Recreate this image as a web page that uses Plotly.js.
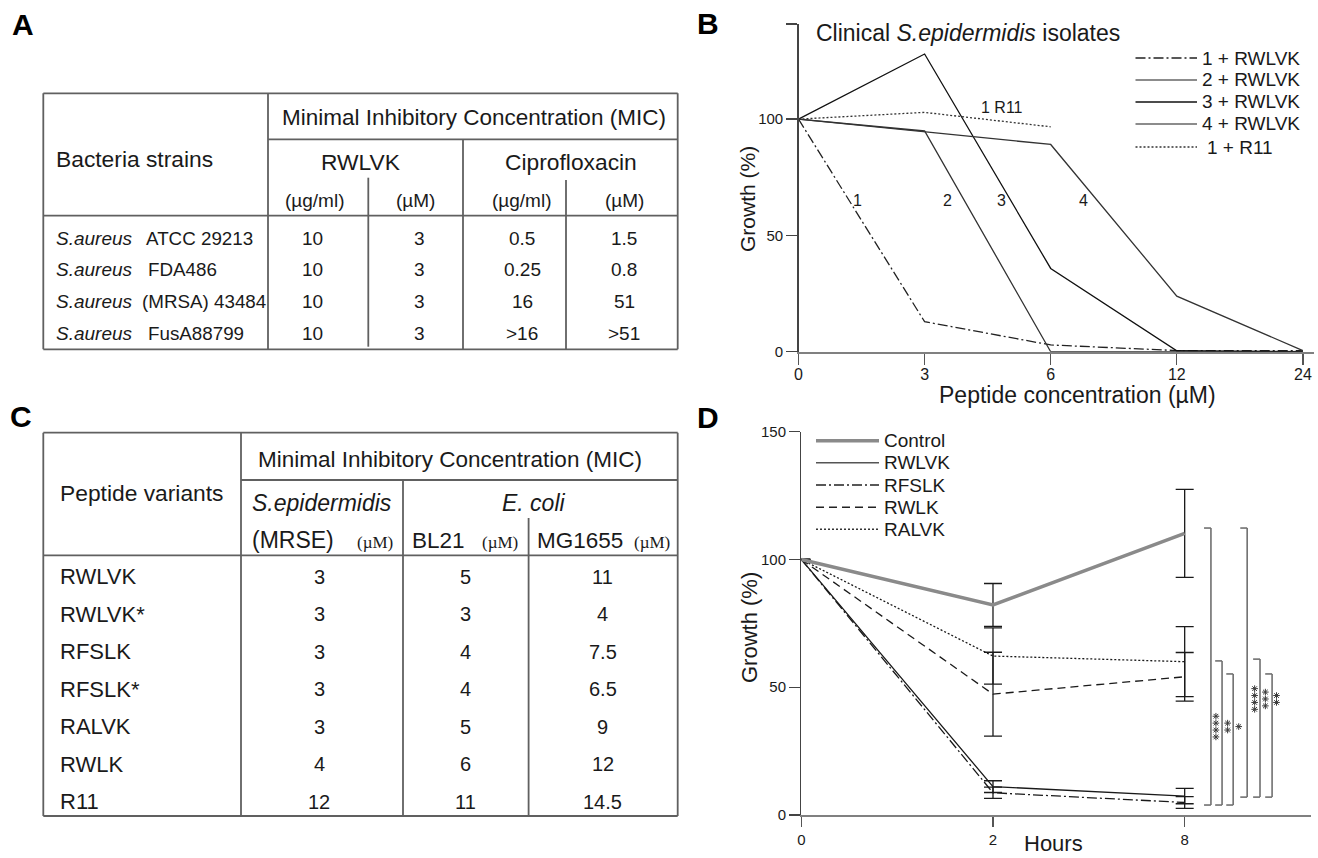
<!DOCTYPE html>
<html><head><meta charset="utf-8">
<script src="https://cdn.plot.ly/plotly-3.0.1.min.js"></script>
<style>html,body{margin:0;padding:0;background:#fff;} #chart{width:1318px;height:858px;}</style>
</head><body><div id="chart"></div>
<script>
// ---------------- DATA ----------------
// Panel A: MIC table, S. aureus strains
const strainSpecies = ['S.aureus', 'S.aureus', 'S.aureus', 'S.aureus'];
const strainNames = ['ATCC 29213', 'FDA486', '(MRSA) 43484', 'FusA88799'];
const rwlvkUgml = ['10', '10', '10', '10'];
const rwlvkUM = ['3', '3', '3', '3'];
const ciproUgml = ['0.5', '0.25', '16', '>16'];
const ciproUM = ['1.5', '0.8', '51', '>51'];

// Panel C: MIC table, peptide variants
const peptideVariants = ['RWLVK', 'RWLVK*', 'RFSLK', 'RFSLK*', 'RALVK', 'RWLK', 'R11'];
const micMRSE = ['3', '3', '3', '3', '3', '4', '12'];
const micBL21 = ['5', '3', '4', '4', '5', '6', '11'];
const micMG1655 = ['11', '4', '7.5', '6.5', '9', '12', '14.5'];

// Panel B: growth (%) vs peptide concentration (uM)
const concLabels = ['0', '3', '6', '12', '24'];
const iso1RWLVK = [100, 12.9, 2.9, 0.5, 0.5];
const iso2RWLVK = [100, 94.9, 0, 0, 0];
const iso3RWLVK = [100, 128, 35.8, 0.4, 0];
const iso4RWLVK = [100, 94.6, 89.1, 23.9, 0.5];
const iso1R11 = [100, 102.9, 96.7];
const isolateLabels = ['1', '2', '3', '4', '1 R11'];

// Panel D: growth (%) vs hours
const hourLabels = ['0', '2', '8'];
const controlGrowth = [100, 82.2, 110.2];
const controlErr = [null, 8.4, 17.2];
const rwlvkGrowth = [100, 11.1, 7.4];
const rwlvkErr = [null, 2.3, 3.0];
const rfslkGrowth = [100, 8.7, 4.9];
const rfslkErr = [null, 2.2, 2.3];
const rwlkGrowth = [100, 47.3, 54.1];
const rwlkErr = [null, 16.4, 9.5];
const ralvkGrowth = [100, 62.2, 60.0];
const ralvkErr = [null, 11.0, 13.7];
const sigTop = [112.3, 60.3, 55.2, 112.3, 61.0, 55.2];
const sigBottom = [3.9, 3.9, 3.9, 7.0, 7.0, 7.0];
const sigLabels = ['****', '**', '*', '****', '***', '**'];

// ---------------- LAYOUT HELPERS ----------------
const W = 1318, H = 858;
const PX = x => x / W;
const PY = y => 1 - y / H;
const FONT = 'Liberation Sans, Arial, Helvetica, sans-serif';
const SERIF = 'Liberation Serif, Times New Roman, serif';
const INK = '#1a1a1a';
const RULE = '#606060';
const DASHDOT = '10px,3px,2px,3px';
const DASH = '8px,5px';
const DOT = '2px,2px';

const annotations = [];
const shapes = [];

function ptext(x, y, text, size, opts) {
  opts = opts || {};
  annotations.push(Object.assign({
    xref: 'paper', yref: 'paper', x: PX(x), y: PY(y), text: text,
    showarrow: false, xanchor: 'center', yanchor: 'middle',
    font: { family: FONT, size: size, color: INK }
  }, opts));
}
function pline(x0, y0, x1, y1, color, width, dash) {
  shapes.push({
    type: 'line', xref: 'paper', yref: 'paper',
    x0: PX(x0), y0: PY(y0), x1: PX(x1), y1: PY(y1),
    line: { color: color || RULE, width: width || 1.8, dash: dash || 'solid' }
  });
}

// ---------------- PANEL LETTERS ----------------
[['A', 23, 24], ['B', 708, 23], ['C', 21, 416], ['D', 708, 417]].forEach(p => {
  ptext(p[1], p[2], '<b>' + p[0] + '</b>', 30, { font: { family: FONT, size: 30, color: '#000' } });
});

// ---------------- TABLE A ----------------
(function () {
  const L = 43.3, R = 677.7, T = 93.3, B = 349.3;
  pline(L, T, R, T); pline(L, B, R, B); pline(L, T, L, B); pline(R, T, R, B);
  pline(268, T, 268, B);
  pline(268, 139.3, R, 139.3);
  pline(L, 215.7, R, 215.7);
  pline(463, 139.3, 463, B);
  pline(368.3, 177.7, 368.3, 346.7);
  pline(566, 180, 566, B);

  ptext(474, 117.3, 'Minimal Inhibitory Concentration (MIC)', 22.5);
  ptext(53.6, 159.3, 'Bacteria strains', 22.8, { xanchor: 'left' });
  ptext(360.7, 161.7, 'RWLVK', 22.8);
  ptext(570.5, 161.7, 'Ciprofloxacin', 22.8);
  const unitCols = [314.7, 415.2, 522.3, 624];
  const units = ['(µg/ml)', '(µM)', '(µg/ml)', '(µM)'];
  units.forEach((u, i) => ptext(unitCols[i], 200, u, 19));

  const valCols = [312.5, 419.6, 522, 624];
  const nameStart = [144.2, 146, 139.7, 146];
  const cols = [rwlvkUgml, rwlvkUM, ciproUgml, ciproUM];
  strainSpecies.forEach((sp, i) => {
    const y = 238.3 + i * 31.67;
    ptext(53.6, y, '<i>' + sp + '</i>', 19, { xanchor: 'left' });
    ptext(nameStart[i], y, strainNames[i], 18.8, { xanchor: 'left' });
    cols.forEach((c, j) => ptext(valCols[j], y, c[i], 19));
  });
})();

// ---------------- TABLE C ----------------
(function () {
  const L = 43.3, R = 677.7, T = 432.7, B = 816;
  pline(L, T, R, T); pline(L, B, R, B); pline(L, T, L, B); pline(R, T, R, B);
  pline(241, T, 241, B);
  pline(241, 480, R, 480);
  pline(403, 480, 403, B);
  pline(528.6, 518, 528.6, B);
  pline(L, 555.3, R, 555.3);

  ptext(450, 459.3, 'Minimal Inhibitory Concentration (MIC)', 22.5);
  ptext(58, 493, 'Peptide variants', 22.8, { xanchor: 'left' });
  ptext(322, 502.7, '<i>S.epidermidis</i>', 23);
  ptext(533.5, 502.7, '<i>E. coli</i>', 23);
  ptext(293, 540, '(MRSE)', 23);
  ptext(438.5, 540, 'BL21', 22.5);
  ptext(579.5, 540, 'MG1655', 22.5);
  [374.5, 499.5, 652].forEach(x => ptext(x, 542, '(µM)', 17, { font: { family: SERIF, size: 17, color: INK } }));

  const valCols = [319, 465.6, 602.7];
  const cols = [micMRSE, micBL21, micMG1655];
  peptideVariants.forEach((p, i) => {
    const y = 576.7 + i * 37.5;
    ptext(58, y, p, 22, { xanchor: 'left' });
    cols.forEach((c, j) => ptext(valCols[j], y, c[i], 20));
  });
})();

// ---------------- PANEL B ----------------
const traces = [];
const bSeries = [
  { y: iso1RWLVK, name: '1 + RWLVK', color: '#222', dash: DASHDOT, key: '#222' },
  { y: iso2RWLVK, name: '2 + RWLVK', color: '#333', dash: 'solid', key: '#666' },
  { y: iso3RWLVK, name: '3 + RWLVK', color: '#111', dash: 'solid', key: '#111' },
  { y: iso4RWLVK, name: '4 + RWLVK', color: '#333', dash: 'solid', key: '#666' },
  { y: iso1R11, name: '1 + R11', color: '#333', dash: DOT, key: '#333' }
];
bSeries.forEach(s => traces.push({
  x: concLabels.slice(0, s.y.length), y: s.y, name: s.name, xaxis: 'x', yaxis: 'y',
  mode: 'lines', line: { color: s.color, width: 1.3, dash: s.dash }, hoverinfo: 'x+y+name'
}));
// B legend (drawn as keys + labels)
const bLegRows = [58, 80, 102, 124, 147];
bSeries.forEach((s, i) => {
  pline(1135.5, bLegRows[i], 1197, bLegRows[i], s.key, 1.4, s.dash);
  ptext(i === 4 ? 1204.5 : 1200, bLegRows[i], s.name, 19, { xanchor: 'left' });
});
ptext(968, 33, 'Clinical <i>S.epidermidis</i> isolates', 23);
ptext(1077, 395, 'Peptide concentration (µM)', 23);
ptext(748, 199, 'Growth (%)', 21, { textangle: -90 });
// isolate number labels inside plot B (data coordinates)
const isoLabelPos = [[0.469, 65.2], [1.18, 65.2], [1.61, 65.2], [2.264, 65.2], [1.61, 104.8]];
isolateLabels.forEach((t, i) => annotations.push({
  xref: 'x', yref: 'y', x: isoLabelPos[i][0], y: isoLabelPos[i][1], text: t, showarrow: false,
  font: { family: FONT, size: 16, color: INK }
}));

// ---------------- PANEL D ----------------
const dSeries = [
  { y: rwlvkGrowth, e: rwlvkErr, name: 'RWLVK', color: '#1a1a1a', width: 1.3, dash: 'solid', key: '#555' },
  { y: rfslkGrowth, e: rfslkErr, name: 'RFSLK', color: '#1a1a1a', width: 1.3, dash: DASHDOT, key: '#222' },
  { y: rwlkGrowth, e: rwlkErr, name: 'RWLK', color: '#1a1a1a', width: 1.3, dash: DASH, key: '#222' },
  { y: ralvkGrowth, e: ralvkErr, name: 'RALVK', color: '#1a1a1a', width: 1.3, dash: DOT, key: '#333' },
  { y: controlGrowth, e: controlErr, name: 'Control', color: '#8a8a8a', width: 3.5, dash: 'solid', key: '#8a8a8a' }
];
dSeries.forEach(s => traces.push({
  x: hourLabels, y: s.y, name: s.name, xaxis: 'x2', yaxis: 'y2', mode: 'lines',
  line: { color: s.color, width: s.width, dash: s.dash },
  error_y: { type: 'data', array: s.e, visible: true, color: '#1a1a1a', thickness: 1.3, width: 9 }
}));
const dLegOrder = [4, 0, 1, 2, 3];
const dLegRows = [440.7, 462.7, 485, 507.3, 529.3];
dLegOrder.forEach((k, i) => {
  const s = dSeries[k];
  pline(816, dLegRows[i], 879, dLegRows[i], s.key, s.width === 3.5 ? 3.5 : 1.4, s.dash);
  ptext(882, dLegRows[i], s.name, 19, { xanchor: 'left' });
});
ptext(1053, 858, 'Hours', 22, { yanchor: 'bottom' });
ptext(749, 628, 'Growth (%)', 22, { textangle: -90 });

// significance brackets (x positions in category-index units of the Hours axis)
const sigX = [2.137, 2.195, 2.253, 2.326, 2.393, 2.456];
const sigTextX = [2.163, 2.224, 2.282, 2.365, 2.421, 2.479];
const sigTextY = [34.6, 34.6, 34.6, 45.4, 45.4, 45.4];
const starStep = 2.7;          // vertical spacing between stacked asterisks (growth units)
const starX = [], starY = [];
sigX.forEach((x, i) => {
  const st = { color: '#707070', width: 1.6 };
  shapes.push({ type: 'line', xref: 'x2', yref: 'y2', x0: x, x1: x, y0: sigBottom[i], y1: sigTop[i], line: st });
  shapes.push({ type: 'line', xref: 'x2', yref: 'y2', x0: x - 0.036, x1: x, y0: sigTop[i], y1: sigTop[i], line: st });
  shapes.push({ type: 'line', xref: 'x2', yref: 'y2', x0: x - 0.036, x1: x, y0: sigBottom[i], y1: sigBottom[i], line: st });
  const n = sigLabels[i].length;
  for (let k = 0; k < n; k++) {
    starX.push(sigTextX[i]);
    starY.push(sigTextY[i] + (k - (n - 1) / 2) * starStep);
  }
});
// asterisks drawn on a linear overlay of the Hours axis (same scale: category index units)
traces.push({
  x: starX, y: starY, xaxis: 'x3', yaxis: 'y2', mode: 'markers', name: 'significance',
  marker: { symbol: 'asterisk-open', size: 5.5, color: '#3a3a3a', line: { color: '#3a3a3a', width: 1 } },
  hoverinfo: 'skip', cliponaxis: false
});

// ---------------- AXES ----------------
const axCommon = {
  showgrid: false, zeroline: false, ticks: 'outside', tickwidth: 1.3, fixedrange: true,
  tickfont: { family: FONT, size: 15, color: INK }
};
const layout = {
  width: W, height: H, margin: { l: 0, r: 0, t: 0, b: 0 },
  paper_bgcolor: '#ffffff', plot_bgcolor: 'rgba(0,0,0,0)', showlegend: false,
  font: { family: FONT, color: INK },
  xaxis: Object.assign({}, axCommon, {
    domain: [798.5 / W, 1314 / W], anchor: 'y', type: 'category',
    categoryorder: 'array', categoryarray: concLabels, range: [0, 4.088],
    showline: true, linecolor: '#808080', linewidth: 1.8, ticklen: 11, tickcolor: '#555',
    tickfont: { family: FONT, size: 16, color: INK }, ticklabelstandoff: -4
  }),
  yaxis: Object.assign({}, axCommon, {
    domain: [PY(351.7), PY(24)], anchor: 'x', range: [0, 140.9],
    tickvals: [0, 50, 100, 140.9], ticktext: ['0', '50', '100', ''],
    showline: true, linecolor: '#444', linewidth: 1.3, ticklen: 11, tickcolor: '#444'
  }),
  xaxis2: Object.assign({}, axCommon, {
    domain: [801.3 / W, 1311 / W], anchor: 'y2', type: 'category',
    categoryorder: 'array', categoryarray: hourLabels, range: [0, 2.659],
    showline: true, linecolor: '#808080', linewidth: 1.8, ticklen: 10, tickcolor: '#555'
  }),
  xaxis3: {
    type: 'linear', overlaying: 'x2', anchor: 'y2', range: [0, 2.659], visible: false,
    showgrid: false, zeroline: false, fixedrange: true
  },
  yaxis2: Object.assign({}, axCommon, {
    domain: [PY(815), PY(431.7)], anchor: 'x2', range: [0, 150],
    tickvals: [0, 50, 100, 150],
    showline: true, linecolor: '#444', linewidth: 1.3, ticklen: 11, tickcolor: '#444'
  }),
  shapes: shapes,
  annotations: annotations
};

Plotly.newPlot('chart', traces, layout, { displayModeBar: false, staticPlot: true });
</script>
</body></html>
